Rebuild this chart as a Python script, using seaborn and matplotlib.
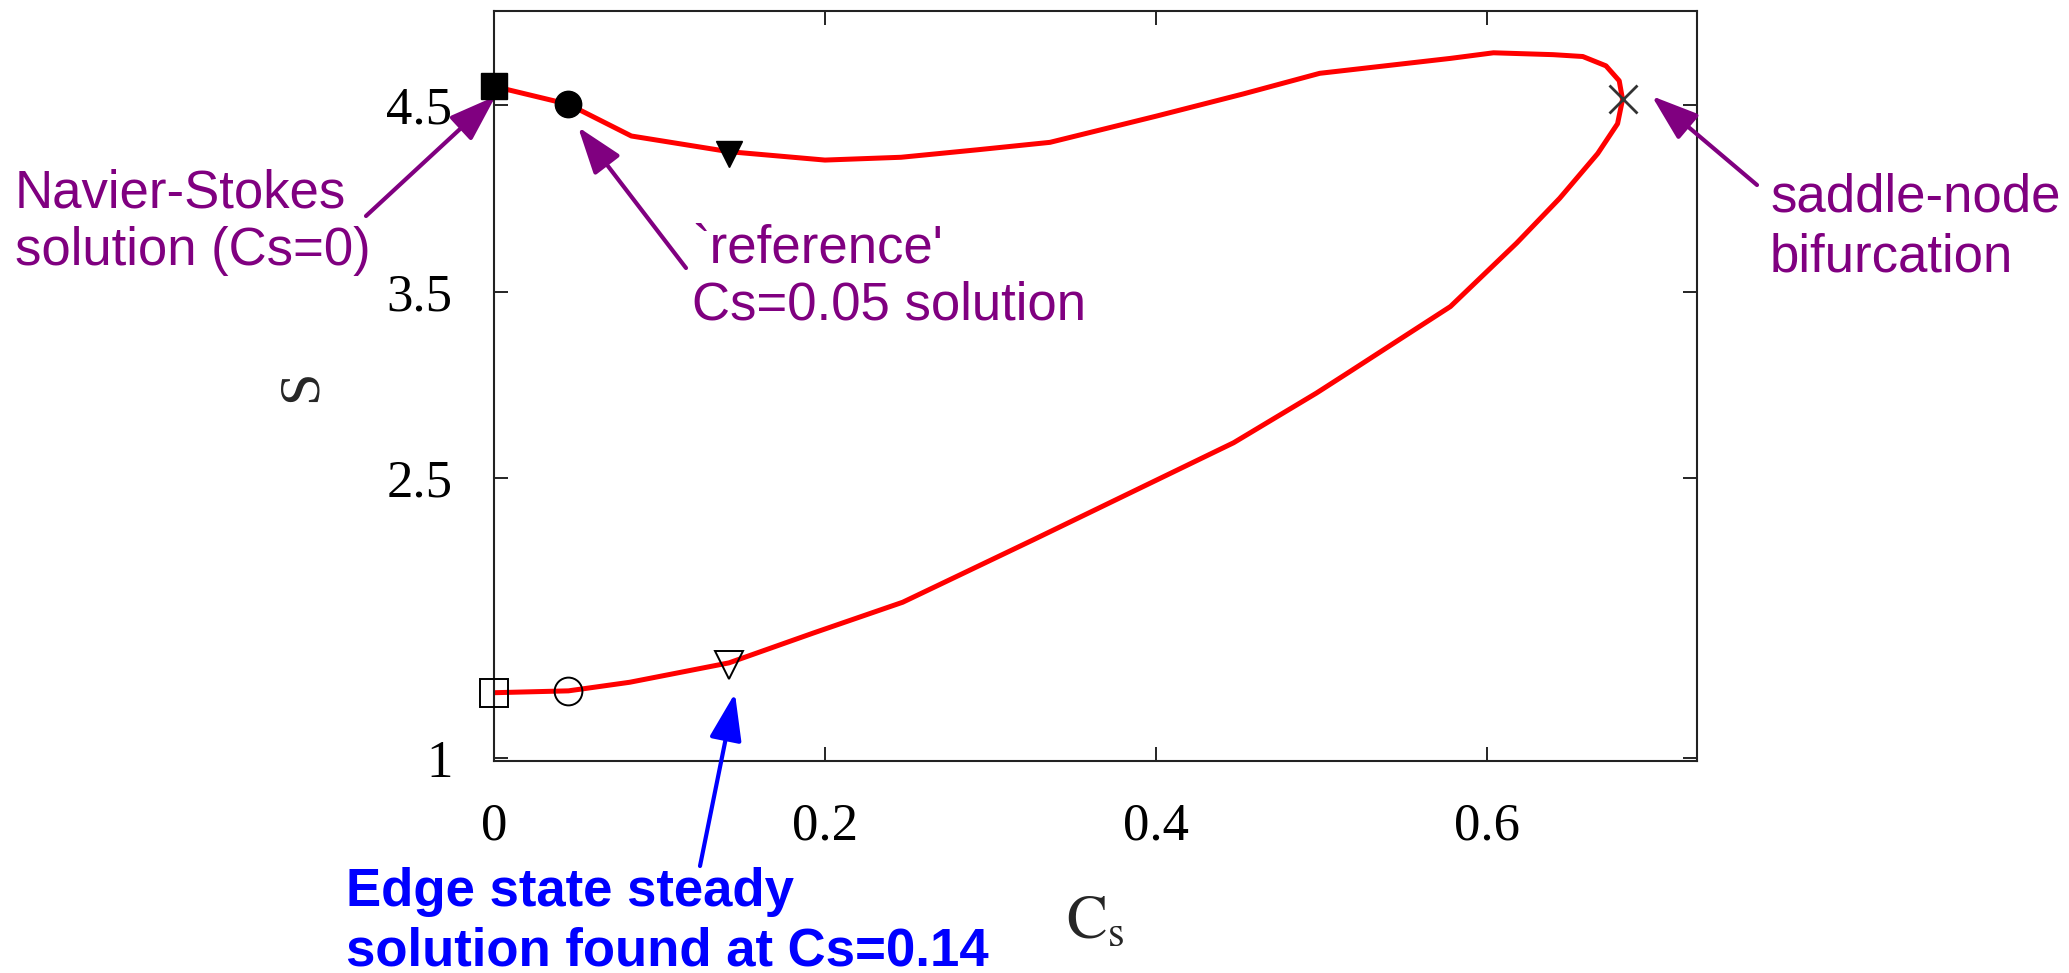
import matplotlib
matplotlib.use("Agg")
import matplotlib.pyplot as plt
import seaborn as sns
import pandas as pd

# ---- data ----
cs_upper = [0.0, 0.045, 0.083, 0.142, 0.200, 0.246, 0.292, 0.336, 0.400, 0.453,
            0.499, 0.578, 0.604, 0.640, 0.658, 0.672, 0.680, 0.682]
s_upper = [4.60, 4.504, 4.334, 4.25, 4.205, 4.22, 4.26, 4.30, 4.44, 4.56,
           4.67, 4.75, 4.78, 4.77, 4.76, 4.71, 4.63, 4.53]
cs_lower = [0.679, 0.667, 0.644, 0.618, 0.578, 0.517, 0.497, 0.447, 0.326,
            0.247, 0.193, 0.142, 0.082, 0.045, 0.0]
s_lower = [4.40, 4.24, 4.00, 3.76, 3.42, 3.07, 2.956, 2.69, 2.17,
           1.835, 1.67, 1.51, 1.406, 1.36, 1.35]

ns_cs, ns_upper, ns_lower = 0.0, 4.60, 1.35
ref_cs, ref_upper, ref_lower = 0.045, 4.504, 1.36
edge_cs, edge_upper, edge_lower = 0.142, 4.24, 1.50
sn_cs, sn_s = 0.682, 4.53

xticks = [0, 0.2, 0.4, 0.6]
xticklabels = ["0", "0.2", "0.4", "0.6"]
yticks = [1, 2.5, 3.5, 4.5]
yticklabels = ["1", "2.5", "3.5", "4.5"]

W, H = 2069, 973
PURPLE = "#800080"
BLUE = "#0000FF"

sns.set_theme(style="ticks")
plt.rcParams["font.family"] = ["Liberation Serif", "DejaVu Serif"]
plt.rcParams["mathtext.fontset"] = "stix"

fig = plt.figure(figsize=(W / 100, H / 100), dpi=100)
ax = fig.add_axes([494 / W, 1 - 761 / H, (1697 - 494) / W, (761 - 11) / H])

curve = pd.DataFrame({"Cs": cs_upper + cs_lower, "S": s_upper + s_lower})
sns.lineplot(data=curve, x="Cs", y="S", sort=False, estimator=None,
             color="red", lw=3.6, ax=ax, zorder=2)

k = dict(color="black", zorder=4, linestyle="none", clip_on=False)
ax.plot([ns_cs], [ns_upper], marker="s", ms=18.5, mew=1, **k)
ax.plot([ref_cs], [ref_upper], marker="o", ms=19, mew=1, **k)
ax.plot([edge_cs], [edge_upper], marker="v", ms=19, mew=1, **k)
ax.plot([ns_cs], [ns_lower], marker="s", ms=20, mew=1.4, fillstyle="none", **k)
ax.plot([ref_cs], [ref_lower], marker="o", ms=20, mew=1.4, fillstyle="none", **k)
ax.plot([edge_cs], [edge_lower], marker="v", ms=20, mew=1.4, fillstyle="none", **k)
ax.plot([sn_cs], [sn_s], marker="x", ms=20, mew=2, color="#333333",
        zorder=4, linestyle="none", clip_on=False)

ax.set_xlim(0, 0.727)
ax.set_ylim(0.984, 5.004)
ax.set_xticks(xticks)
ax.set_xticklabels(xticklabels)
ax.set_yticks(yticks)
ax.set_yticklabels(yticklabels)
ax.tick_params(direction="in", length=10, width=1.2, top=True, right=True,
               labelsize=38, pad=30, colors="black")
for sp in ax.spines.values():
    sp.set_linewidth(1.5)
    sp.set_color("#222222")
ax.set_xlabel(r"$\mathrm{C_s}$", fontsize=44)
ax.set_ylabel("S", fontsize=42)
ax.xaxis.set_label_coords(0.5, (761 - 895) / 750)
ax.yaxis.set_label_coords((328 - 494) / 1203, 0.5)


def fp(x, y):
    return (x / W, 1 - y / H)


def label(lines, x, y0, color, weight="normal", dy=60):
    for i, t in enumerate(lines):
        fig.text(*fp(x, y0 + i * dy), t, color=color, fontsize=38,
                 family=["Liberation Sans", "DejaVu Sans"], weight=weight,
                 ha="left", va="baseline")


label(["Navier-Stokes", "solution (Cs=0)"], 15, 207, PURPLE, dy=58)
label(["`reference'", "Cs=0.05 solution"], 692, 262, PURPLE, dy=58)
label(["saddle-node", "bifurcation"], 1770, 212, PURPLE)
label(["Edge state steady", "solution found at Cs=0.14"], 346, 906, BLUE,
      weight="bold")


def arrow(tip, tail_px, color):
    ax.annotate("", xy=tip, xycoords="data", xytext=fp(*tail_px),
                textcoords="figure fraction", annotation_clip=False,
                arrowprops=dict(arrowstyle="-|>,head_length=1.45,head_width=0.5",
                                mutation_scale=20, color=color, lw=3,
                                shrinkA=0, shrinkB=0))


arrow((0.001, 4.548), (366, 216), PURPLE)
arrow((0.0508, 4.382), (686, 268), PURPLE)
arrow((0.6997, 4.548), (1757, 185), PURPLE)
arrow((0.1456, 1.347), (700, 866), BLUE)

fig.savefig("out.png", dpi=100)
